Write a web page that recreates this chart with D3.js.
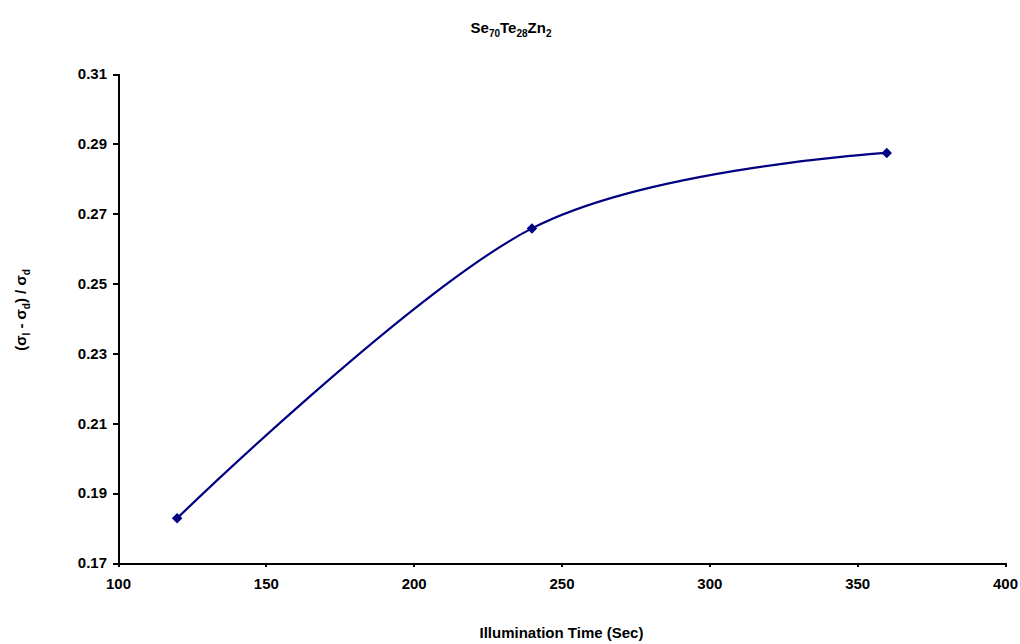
<!DOCTYPE html>
<html>
<head>
<meta charset="utf-8">
<script src="https://cdn.jsdelivr.net/npm/d3@7"></script>
<style>
body { margin: 0; background: #fff; }
text { font-family: "Liberation Sans", Arial, sans-serif; font-weight: bold; fill: #000; }
</style>
</head>
<body>
<div id="chart"></div>
<script>
// illumination time (sec) and photosensitivity values
var times = [120, 240, 360];
var sens = [0.1828, 0.2658, 0.2874];
var xTicks = [100, 150, 200, 250, 300, 350, 400];
var yTicks = [0.17, 0.19, 0.21, 0.23, 0.25, 0.27, 0.29, 0.31];

var W = 1020, H = 644,
	mLeft = 118, mRight = 1005, mTop = 74, mBottom = 563;

var svg = d3.select("#chart").append("svg")
	.attr("width", W)
	.attr("height", H);

var x = d3.scaleLinear().domain([100, 400]).range([mLeft, mRight]);
var y = d3.scaleLinear().domain([0.17, 0.31]).range([mBottom, mTop]);

//x axis
var gx = svg.append("g")
	.attr("transform", "translate(0," + mBottom + ")")
	.call(d3.axisBottom(x).tickValues(xTicks).tickSizeInner(4).tickSizeOuter(4).tickPadding(11).tickFormat(d3.format("d")));

//y axis
var gy = svg.append("g")
	.attr("transform", "translate(" + mLeft + ",0)")
	.call(d3.axisLeft(y).tickValues(yTicks).tickSizeInner(5).tickSizeOuter(5).tickPadding(6).tickFormat(d3.format(".2f")));

[gx, gy].forEach(function(g) {
	g.selectAll("path, line").attr("stroke", "#000").attr("stroke-width", 2).style("shape-rendering", "crispEdges");
	g.selectAll("text").style("font-size", "15px").style("font-weight", "bold").attr("fill", "#000")
		.style("font-family", "Liberation Sans, Arial, sans-serif");
});

var pts = times.map(function(t, i) { return [t, sens[i]]; });

var line = d3.line()
	.x(function(d) { return x(d[0]); })
	.y(function(d) { return y(d[1]); })
	.curve(d3.curveCardinal.tension(0));

svg.append("path")
	.datum(pts)
	.attr("d", line)
	.attr("fill", "none")
	.attr("stroke", "#000080")
	.attr("stroke-width", 2.2);

svg.selectAll(".pt")
	.data(pts)
	.enter()
	.append("path")
	.attr("class", "pt")
	.attr("d", d3.symbol().type(d3.symbolSquare).size(55))
	.attr("transform", function(d) { return "translate(" + x(d[0]) + "," + y(d[1]) + ") rotate(45)"; })
	.attr("fill", "#000080");

//title
var title = svg.append("text")
	.attr("x", 511)
	.attr("y", 33)
	.attr("text-anchor", "middle")
	.style("font-size", "15px");
[["Se", false], ["70", true], ["Te", false], ["28", true], ["Zn", false], ["2", true]].forEach(function(p, i) {
	var ts = title.append("tspan").text(p[0]);
	if (p[1]) ts.style("font-size", "10px").attr("dy", 4);
	else if (i > 0) ts.attr("dy", -4);
});

//x label
svg.append("text")
	.attr("x", (mLeft + mRight) / 2)
	.attr("y", 638)
	.attr("text-anchor", "middle")
	.style("font-size", "15px")
	.text("Illumination Time (Sec)");

//y label
var yl = svg.append("text")
	.attr("transform", "translate(26,310) rotate(-90)")
	.attr("text-anchor", "middle")
	.style("font-size", "15px");
yl.append("tspan").text("(σ");
yl.append("tspan").text("l").style("font-size", "10px").attr("dy", 4);
yl.append("tspan").text(" - σ").attr("dy", -4);
yl.append("tspan").text("d").style("font-size", "10px").attr("dy", 4);
yl.append("tspan").text(") / σ").attr("dy", -4);
yl.append("tspan").text("d").style("font-size", "10px").attr("dy", 4);
</script>
</body>
</html>
